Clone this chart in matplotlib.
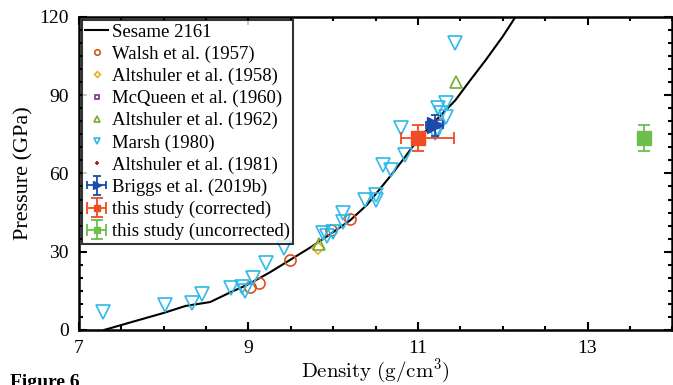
import numpy as np
import matplotlib.pyplot as plt
from matplotlib.ticker import MultipleLocator

plt.rcParams['font.family'] = ['Liberation Serif', 'DejaVu Serif']
plt.rcParams['mathtext.fontset'] = 'cm'

#data region
sesame_rho = [7.3, 7.6, 8.0, 8.26, 8.55, 8.8, 9.0, 9.25, 9.5, 9.75, 10.0, 10.2, 10.4, 10.5,
              10.7, 10.85, 11.0, 11.2, 11.44, 11.6, 11.8, 12.0, 12.15, 12.3]
sesame_p = [0, 2.8, 6.5, 9.2, 10.7, 14.6, 17.5, 22, 27, 32, 37.5, 42, 48, 52,
            60, 66.4, 73, 80, 88, 95, 103.5, 112.5, 120, 127]

walsh_rho = [9.02, 9.12, 9.49, 9.98, 10.2]
walsh_p = [16.5, 18, 26.8, 38.3, 42.5]

alt58_rho = [9.82]
alt58_p = [31.4]

mcq60_rho = [11.25]
mcq60_p = [79]

alt62_rho = [9.83, 11.45]
alt62_p = [33, 95]

marsh_rho = [7.29, 8.02, 8.33, 8.45, 8.79, 8.92, 8.96, 9.06, 9.21, 9.42, 9.88, 9.93, 10.0,
             10.12, 10.12, 10.38, 10.5, 10.51, 10.59, 10.68, 10.85, 10.8, 11.44, 11.24,
             11.33, 11.27, 11.33, 11.24, 11.2]
marsh_p = [6.9, 9.6, 10.3, 13.8, 16, 16.5, 15, 20, 25.5, 31.6, 37, 36, 37.5,
           44.8, 41.4, 49.8, 51.7, 50, 63.2, 61.3, 67, 77.4, 110, 85,
           87, 83, 81.6, 76.6, 75.5]

alt81_rho = [11.22]
alt81_p = [78.5]

briggs_rho, briggs_p = [11.2], [78.5]
briggs_xerr, briggs_yerr = [0.1], [4]

corr_rho, corr_p = [11.0], [73.6]
corr_xerr = [[0.2], [0.43]]
corr_yerr = [5]

uncorr_rho, uncorr_p = [13.67], [73.6]
uncorr_xerr, uncorr_yerr = [0.03], [5]

x_ticks = [7, 9, 11, 13]
y_ticks = [0, 30, 60, 90, 120]
#endregion

fig = plt.figure(figsize=(6.73, 3.85), dpi=100)
ax = fig.add_axes([0.117, 0.143, 0.882, 0.813])

ax.plot(sesame_rho, sesame_p, color='black', lw=1.5, label='Sesame 2161', zorder=3)
ax.plot(walsh_rho, walsh_p, 'o', mfc='none', mec='#D95319', ms=8, mew=1.2,
        label='Walsh et al. (1957)', zorder=4)
ax.plot(alt58_rho, alt58_p, 'D', mfc='none', mec='#EDB120', ms=6, mew=1.2,
        label='Altshuler et al. (1958)', zorder=4)
ax.plot(mcq60_rho, mcq60_p, 's', mfc='none', mec='#7E2F8E', ms=6, mew=1.2,
        label='McQueen et al. (1960)', zorder=4)
ax.plot(alt62_rho, alt62_p, '^', mfc='none', mec='#77AC30', ms=9, mew=1.2,
        label='Altshuler et al. (1962)', zorder=4)
ax.plot(marsh_rho, marsh_p, 'v', mfc='none', mec='#2FB8E8', ms=10, mew=1.2,
        label='Marsh (1980)', zorder=4)
ax.plot(alt81_rho, alt81_p, '+', color='#A2142F', ms=6, mew=1.2,
        label='Altshuler et al. (1981)', zorder=4)
ax.errorbar(briggs_rho, briggs_p, xerr=briggs_xerr, yerr=briggs_yerr, fmt='>',
            color='#1A4BAA', ms=11, capsize=3, elinewidth=1.3, capthick=1.3,
            label='Briggs et al. (2019b)', zorder=5)
ax.errorbar(corr_rho, corr_p, xerr=corr_xerr, yerr=corr_yerr, fmt='s',
            color='#F04B22', ms=10, capsize=4, elinewidth=1.3, capthick=1.3,
            label='this study (corrected)', zorder=5)
ax.errorbar(uncorr_rho, uncorr_p, xerr=uncorr_xerr, yerr=uncorr_yerr, fmt='s',
            color='#6DBE4B', ms=10, capsize=4, elinewidth=1.3, capthick=1.3,
            label='this study (uncorrected)', zorder=5)

ax.set_xlim(7, 14)
ax.set_ylim(0, 120)
ax.set_xticks(x_ticks)
ax.set_yticks(y_ticks)
ax.xaxis.set_minor_locator(MultipleLocator(0.5))
ax.yaxis.set_minor_locator(MultipleLocator(5))
ax.tick_params(which='both', direction='in', top=True, right=True, labelsize=14, width=1.5)
ax.tick_params(which='major', length=6)
ax.tick_params(axis='x', which='major', pad=7)
ax.tick_params(axis='y', which='major', pad=7)
ax.tick_params(which='minor', length=3)
for s in ax.spines.values():
    s.set_linewidth(1.8)

ax.set_xlabel(r'$\mathrm{Density\ (g/cm^3)}$', fontsize=15, labelpad=0)
ax.set_ylabel('Pressure (GPa)', fontsize=16, labelpad=4)

leg = ax.legend(loc='upper left', fontsize=13.5, markerscale=0.5, handlelength=1.2,
                handletextpad=0.2, labelspacing=0.26, borderpad=0.2, borderaxespad=0.15,
                frameon=True, fancybox=False, edgecolor='black')
leg.get_frame().set_linewidth(1.5)

fig.text(0.015, 0.028, 'Figure 6', fontsize=14, fontweight='bold', va='top', ha='left')

fig.savefig('out.png', dpi=100)
